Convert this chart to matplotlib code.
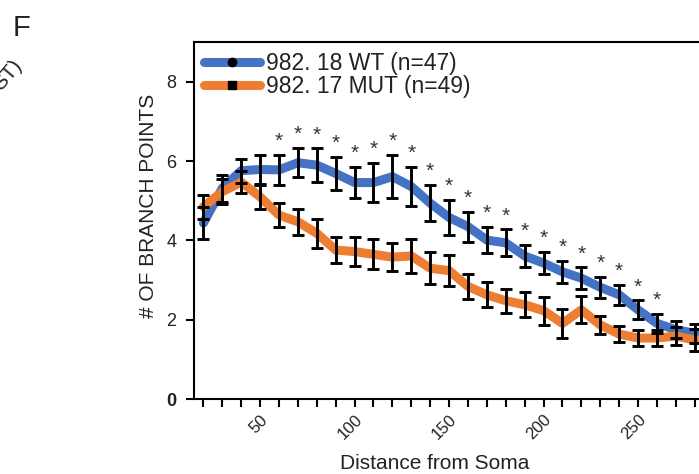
import matplotlib
matplotlib.use("Agg")
import matplotlib.pyplot as plt
from matplotlib.lines import Line2D

plt.rcParams['font.family'] = ['Liberation Sans', 'DejaVu Sans']

# distance from soma (um)
dist = [20, 30, 40, 50, 60, 70, 80, 90, 100, 110, 120, 130, 140, 150,
        160, 170, 180, 190, 200, 210, 220, 230, 240, 250, 260, 270, 280, 290]

wt_mean = [4.44, 5.32, 5.76, 5.79, 5.78, 5.96, 5.90, 5.69, 5.46, 5.46, 5.61, 5.36, 4.94, 4.58,
           4.35, 4.01, 3.94, 3.61, 3.43, 3.21, 3.05, 2.82, 2.63, 2.25, 1.91, 1.75, 1.66, 1.60]
wt_err = [0.40, 0.34, 0.30, 0.37, 0.37, 0.37, 0.42, 0.41, 0.40, 0.49, 0.55, 0.49, 0.46, 0.45,
          0.38, 0.33, 0.34, 0.27, 0.28, 0.27, 0.27, 0.27, 0.25, 0.24, 0.24, 0.22, 0.24, 0.22]

mut_mean = [4.85, 5.23, 5.47, 5.10, 4.64, 4.47, 4.18, 3.76, 3.72, 3.65, 3.58, 3.61, 3.30, 3.24,
            2.84, 2.63, 2.48, 2.38, 2.23, 1.91, 2.25, 1.87, 1.64, 1.54, 1.54, 1.59, 1.49, 1.45]
mut_err = [0.30, 0.32, 0.28, 0.31, 0.31, 0.32, 0.36, 0.34, 0.36, 0.38, 0.36, 0.43, 0.41, 0.40,
           0.32, 0.32, 0.30, 0.31, 0.35, 0.36, 0.34, 0.23, 0.21, 0.21, 0.21, 0.23, 0.27, 0.25]

# distances marked significant
sig_dist = [60, 70, 80, 90, 100, 110, 120, 130, 140, 150, 160, 170, 180, 190,
            200, 210, 220, 230, 240, 250, 260]

x_ticks = list(range(20, 301, 10))
x_labelled = [50, 100, 150, 200, 250]

wt_label = "982. 18 WT (n=47)"
mut_label = "982. 17 MUT (n=49)"

blue = "#4472C4"
orange = "#ED7D31"
ink = "#222222"

fig = plt.figure(figsize=(6.99, 4.74), dpi=100)
# axes runs past the right edge of the figure (cropped panel)
ax = fig.add_axes([0.2775, 0.158, 0.784, 0.753])

ax.plot(dist, wt_mean, color=blue, lw=6.5, solid_capstyle='round', zorder=2)
ax.plot(dist, mut_mean, color=orange, lw=6.5, solid_capstyle='round', zorder=3)
ax.errorbar(dist, wt_mean, yerr=wt_err, fmt='none', ecolor='black', elinewidth=2.1,
            capsize=4.5, capthick=2.1, zorder=4)
ax.errorbar(dist, mut_mean, yerr=mut_err, fmt='none', ecolor='black', elinewidth=2.1,
            capsize=4.5, capthick=2.1, zorder=4)

for d in sig_dist:
    i = dist.index(d)
    ax.text(d, wt_mean[i] + wt_err[i] + 0.2, "*", ha='center', va='baseline',
            fontsize=15, color='#333333', zorder=5)

ax.set_xlim(15, 305)
ax.set_ylim(0, 9)

ax.set_xticks(x_ticks)
ax.set_xticklabels([str(t) if t in x_labelled else "" for t in x_ticks],
                   rotation=45, ha='right', rotation_mode='anchor', fontsize=12, color=ink)
ax.set_yticks([0, 2, 4, 6, 8])
ax.set_yticklabels(["0", "2", "4", "6", "8"], fontsize=13, color=ink)
ax.get_yticklabels()[0].set_fontweight('bold')

ax.tick_params(axis='both', length=5.5, width=1.5, direction='out', color='black')
ax.tick_params(axis='x', pad=4)
ax.tick_params(axis='y', pad=7)
for s in ax.spines.values():
    s.set_linewidth(1.5)

ax.set_xlabel("Distance from Soma", fontsize=15, color=ink)
ax.xaxis.set_label_coords(0.44, -0.155)
ax.set_ylabel("# OF BRANCH POINTS", fontsize=15, color=ink)
ax.yaxis.set_label_coords(-0.066, 0.54)

handles = [
    Line2D([], [], color=blue, lw=6.5, solid_capstyle='round', marker='o',
           markerfacecolor='black', markeredgecolor='black', markersize=6),
    Line2D([], [], color=orange, lw=6.5, solid_capstyle='round', marker='s',
           markerfacecolor='black', markeredgecolor='black', markersize=6),
]
ax.legend(handles, [wt_label, mut_label], loc='upper left', bbox_to_anchor=(0.018, 0.972),
          frameon=False, fontsize=16.5, handlelength=2.45, handletextpad=0.28,
          labelspacing=-0.02, borderpad=0, borderaxespad=0, labelcolor=ink)

# panel letter and cropped label of the neighbouring panel
fig.text(0.018, 0.925, "F", fontsize=21, color=ink, ha='left', va='baseline')
fig.text(0.032, 0.862, "ST)", fontsize=15, color=ink, rotation=50,
         ha='right', va='baseline', rotation_mode='anchor')

fig.savefig("out.png", dpi=100)
